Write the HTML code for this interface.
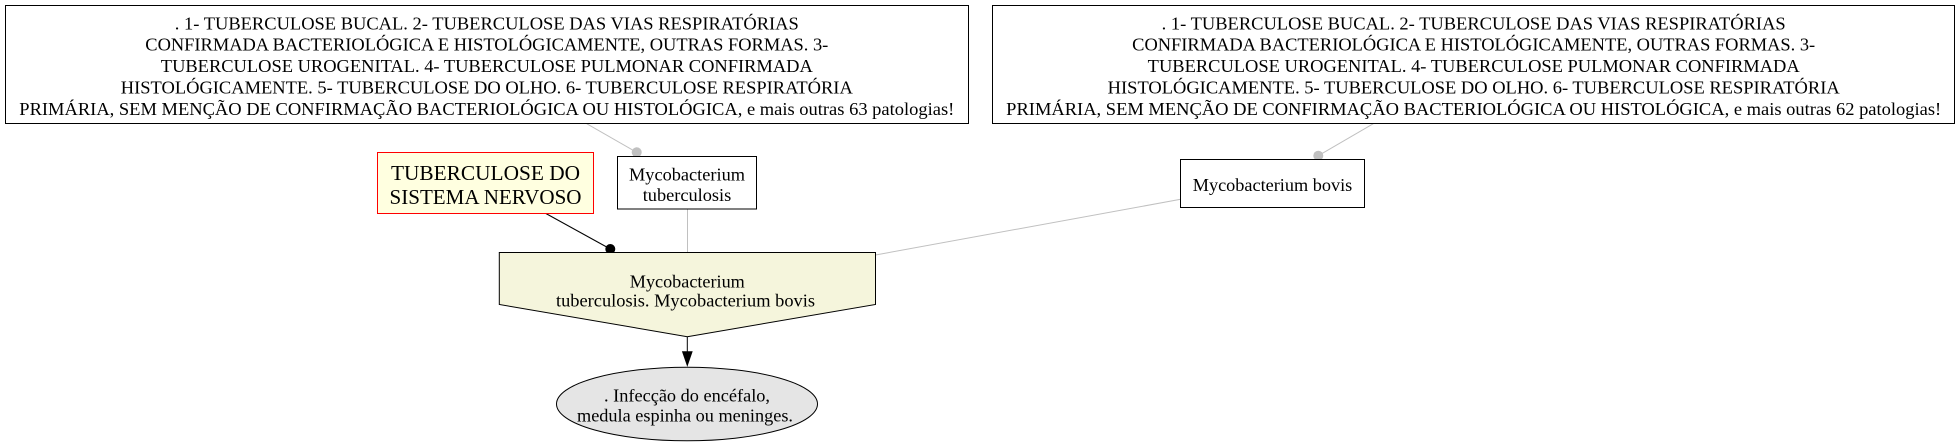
<!DOCTYPE html>
<html>
<head>
<meta charset="utf-8">
<style>
  html, body { margin:0; padding:0; background:#ffffff; }
  body { width:1960px; height:448px; overflow:hidden; }
  svg { display:block; }
  text { font-family:"Liberation Serif", "Times New Roman", serif; fill:#000; }
</style>
</head>
<body>
<svg width="1960" height="448" viewBox="0 0 1960 448" xmlns="http://www.w3.org/2000/svg">
  <rect x="0" y="0" width="1960" height="448" fill="#ffffff"/>

  <!-- Edges -->
  <line x1="586.7" y1="123.7" x2="636.7" y2="152.3" stroke="#c0c0c0" stroke-width="1"/>
  <circle cx="636.7" cy="152.3" r="5" fill="#c0c0c0"/>
  <line x1="1373.3" y1="123.7" x2="1318.3" y2="155.7" stroke="#c0c0c0" stroke-width="1"/>
  <circle cx="1318.3" cy="155.7" r="5" fill="#c0c0c0"/>
  <line x1="545" y1="213" x2="610.3" y2="249" stroke="#000" stroke-width="1"/>
  <circle cx="610.3" cy="249" r="5" fill="#000"/>
  <line x1="687.5" y1="209" x2="687.5" y2="252.3" stroke="#c0c0c0" stroke-width="1"/>
  <line x1="1180.7" y1="199.3" x2="875.5" y2="255" stroke="#c0c0c0" stroke-width="1"/>
  <line x1="687.3" y1="336.7" x2="687.3" y2="352" stroke="#000" stroke-width="1"/>
  <polygon points="682.6,351.7 692,351.7 687.3,365.3" fill="#000" stroke="#000" stroke-width="1"/>

  <!-- Top-left box -->
  <rect x="5.5" y="5.5" width="963" height="118" fill="#ffffff" stroke="#000" stroke-width="1"/>
  <g font-size="18.3" text-anchor="middle">
    <text x="486.8" y="29.3" textLength="624" lengthAdjust="spacingAndGlyphs">. 1- TUBERCULOSE BUCAL. 2- TUBERCULOSE DAS VIAS RESPIRATÓRIAS</text>
    <text x="486.8" y="50.7" textLength="683" lengthAdjust="spacingAndGlyphs">CONFIRMADA BACTERIOLÓGICA E HISTOLÓGICAMENTE, OUTRAS FORMAS. 3-</text>
    <text x="486.8" y="72.1" textLength="652" lengthAdjust="spacingAndGlyphs">TUBERCULOSE UROGENITAL. 4- TUBERCULOSE PULMONAR CONFIRMADA</text>
    <text x="486.8" y="93.5" textLength="732" lengthAdjust="spacingAndGlyphs">HISTOLÓGICAMENTE. 5- TUBERCULOSE DO OLHO. 6- TUBERCULOSE RESPIRATÓRIA</text>
    <text x="486.8" y="114.9" textLength="935" lengthAdjust="spacingAndGlyphs">PRIMÁRIA, SEM MENÇÃO DE CONFIRMAÇÃO BACTERIOLÓGICA OU HISTOLÓGICA, e mais outras 63 patologias!</text>
  </g>

  <!-- Top-right box -->
  <rect x="992.5" y="5.5" width="962" height="118" fill="#ffffff" stroke="#000" stroke-width="1"/>
  <g font-size="18.3" text-anchor="middle">
    <text x="1473.7" y="29.3" textLength="624" lengthAdjust="spacingAndGlyphs">. 1- TUBERCULOSE BUCAL. 2- TUBERCULOSE DAS VIAS RESPIRATÓRIAS</text>
    <text x="1473.7" y="50.7" textLength="683" lengthAdjust="spacingAndGlyphs">CONFIRMADA BACTERIOLÓGICA E HISTOLÓGICAMENTE, OUTRAS FORMAS. 3-</text>
    <text x="1473.7" y="72.1" textLength="652" lengthAdjust="spacingAndGlyphs">TUBERCULOSE UROGENITAL. 4- TUBERCULOSE PULMONAR CONFIRMADA</text>
    <text x="1473.7" y="93.5" textLength="732" lengthAdjust="spacingAndGlyphs">HISTOLÓGICAMENTE. 5- TUBERCULOSE DO OLHO. 6- TUBERCULOSE RESPIRATÓRIA</text>
    <text x="1473.7" y="114.9" textLength="935" lengthAdjust="spacingAndGlyphs">PRIMÁRIA, SEM MENÇÃO DE CONFIRMAÇÃO BACTERIOLÓGICA OU HISTOLÓGICA, e mais outras 62 patologias!</text>
  </g>

  <!-- Red box -->
  <rect x="377.5" y="152.5" width="216" height="61" fill="#ffffe0" stroke="#ff0000" stroke-width="1"/>
  <g font-size="21.3" text-anchor="middle">
    <text x="485.5" y="180" textLength="189" lengthAdjust="spacingAndGlyphs">TUBERCULOSE DO</text>
    <text x="485.5" y="204" textLength="192" lengthAdjust="spacingAndGlyphs">SISTEMA NERVOSO</text>
  </g>

  <!-- Mycobacterium tuberculosis box -->
  <rect x="617.5" y="156.5" width="139" height="52.5" fill="#ffffff" stroke="#000" stroke-width="1"/>
  <g font-size="18.3" text-anchor="middle">
    <text x="687" y="180.5" textLength="116" lengthAdjust="spacingAndGlyphs">Mycobacterium</text>
    <text x="687" y="201" textLength="88.6" lengthAdjust="spacingAndGlyphs">tuberculosis</text>
  </g>

  <!-- Mycobacterium bovis box -->
  <rect x="1180.5" y="159.5" width="184" height="48" fill="#ffffff" stroke="#000" stroke-width="1"/>
  <text x="1272.5" y="191" font-size="18.3" text-anchor="middle" textLength="159.5" lengthAdjust="spacingAndGlyphs">Mycobacterium bovis</text>

  <!-- Pentagon -->
  <polygon points="499.3,252.5 875.5,252.5 875.5,304.5 687.3,336.7 499.3,304.5" fill="#f5f5dc" stroke="#000" stroke-width="1"/>
  <g font-size="18.3" text-anchor="middle">
    <text x="687.3" y="287.3" textLength="115" lengthAdjust="spacingAndGlyphs">Mycobacterium</text>
    <text x="685.5" y="306.5" textLength="259" lengthAdjust="spacingAndGlyphs">tuberculosis. Mycobacterium bovis</text>
  </g>

  <!-- Ellipse -->
  <ellipse cx="687" cy="404" rx="130.5" ry="36.8" fill="#e5e5e5" stroke="#000" stroke-width="1"/>
  <g font-size="18.3" text-anchor="middle">
    <text x="687" y="401.7" textLength="166" lengthAdjust="spacingAndGlyphs">. Infecção do encéfalo,</text>
    <text x="685" y="421.7" textLength="216" lengthAdjust="spacingAndGlyphs">medula espinha ou meninges.</text>
  </g>
</svg>
</body>
</html>
